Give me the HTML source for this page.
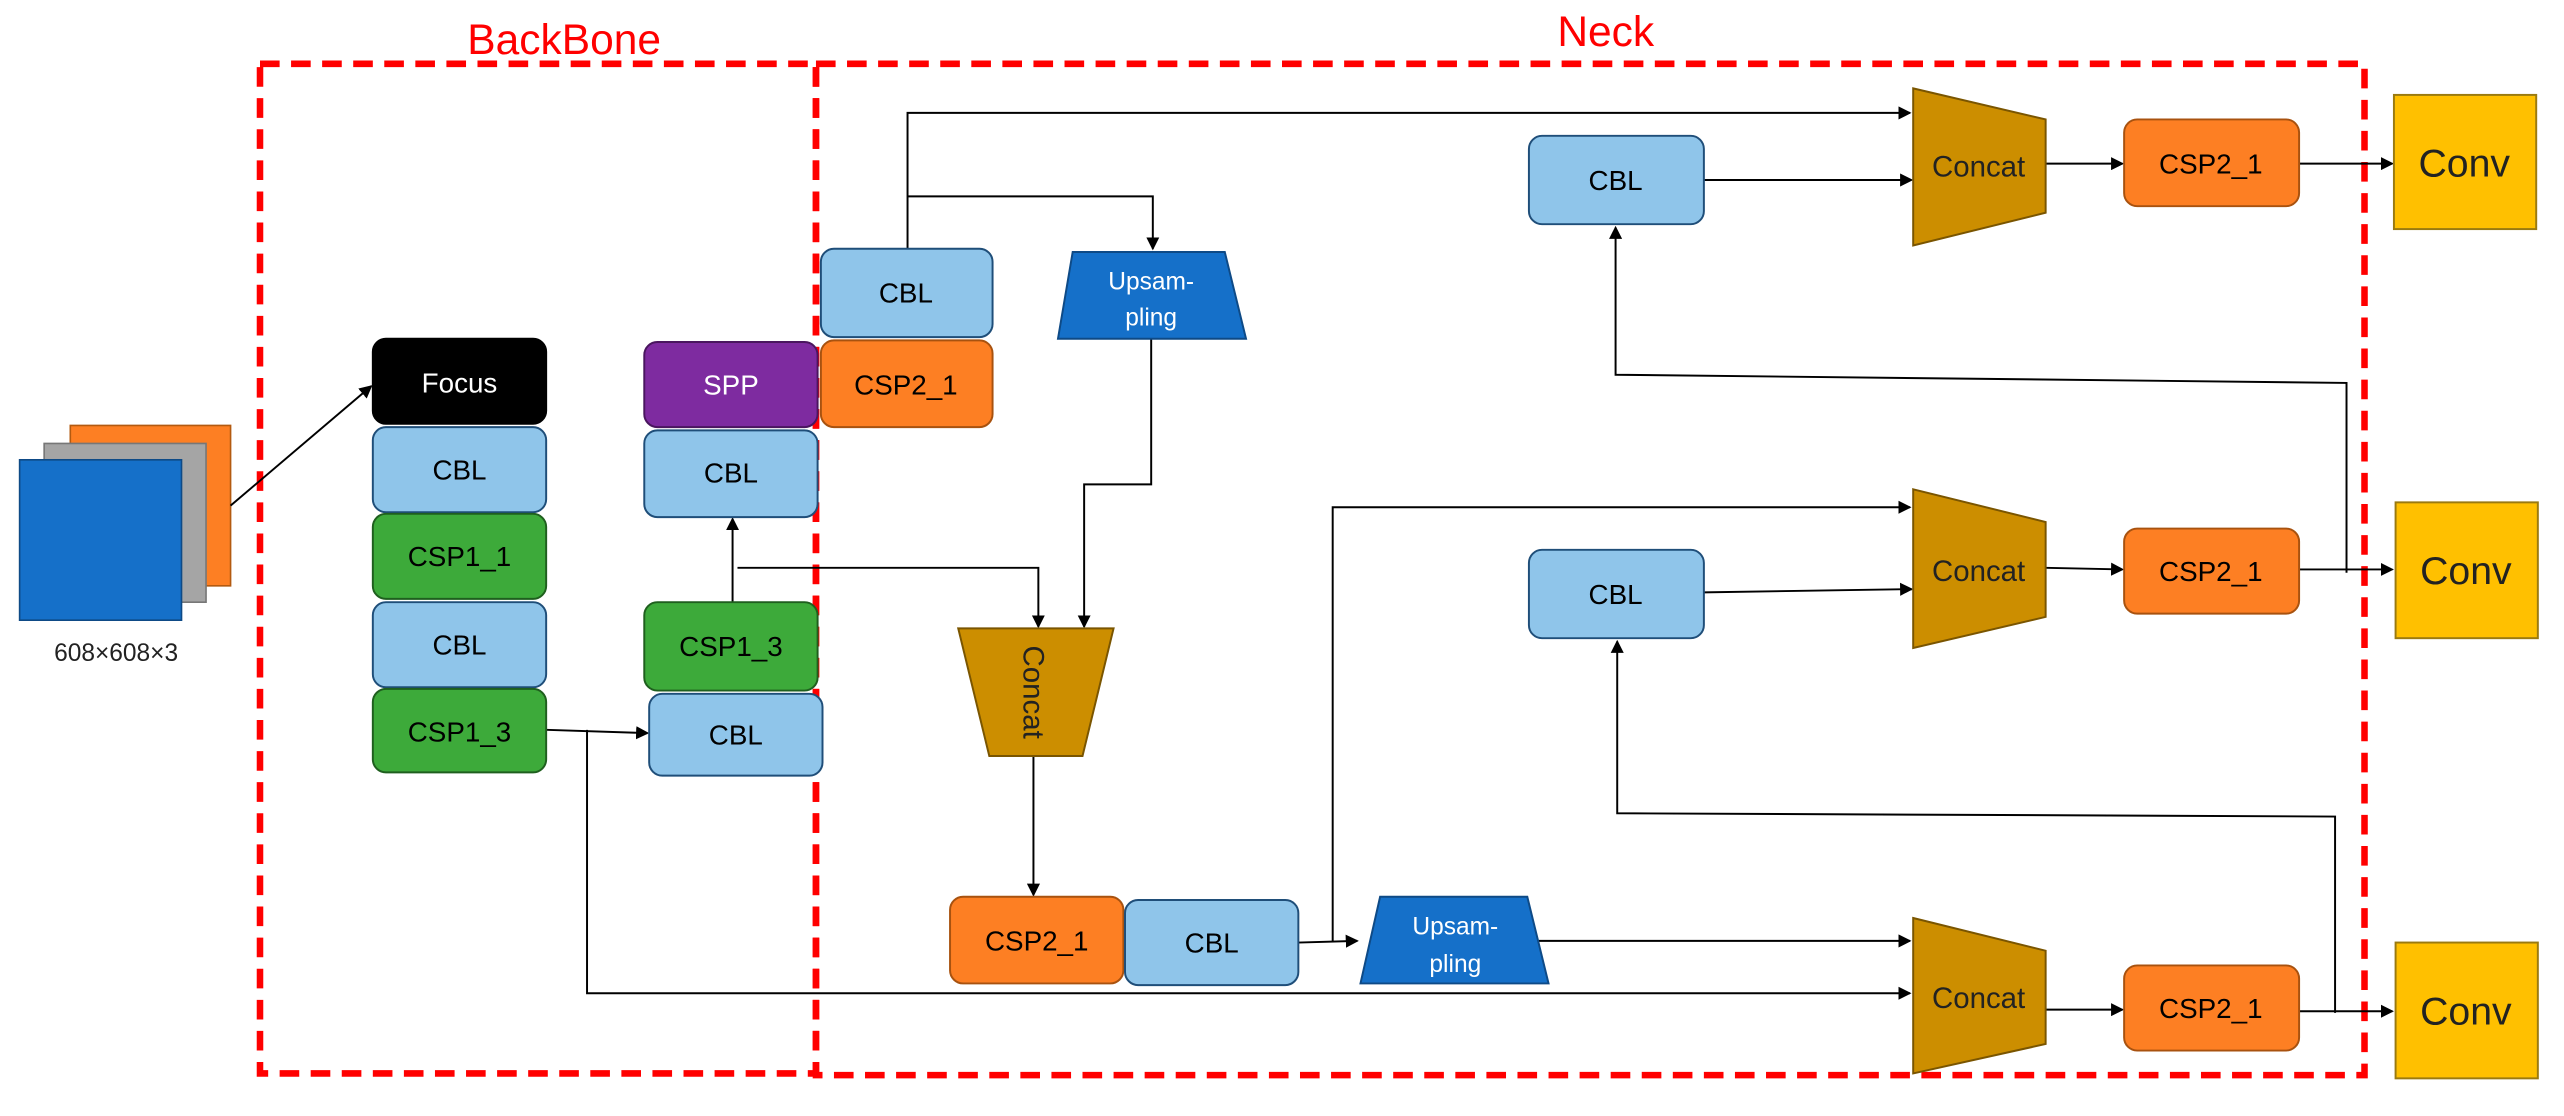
<!DOCTYPE html>
<html><head><meta charset="utf-8"><style>html,body{margin:0;padding:0;background:#fff}svg{display:block}</style></head>
<body>
<svg width="2564" height="1116" viewBox="0 0 1568 682" preserveAspectRatio="none" xmlns="http://www.w3.org/2000/svg" font-family="Liberation Sans, sans-serif">
<defs>
<marker id="a" markerWidth="8" markerHeight="8" refX="7" refY="4" orient="auto" markerUnits="userSpaceOnUse"><path d="M0,0 L8,4 L0,8 z" fill="#000"/></marker>
</defs>
<!-- dashed frames -->
<g fill="none" stroke="#f00" stroke-width="4" stroke-dasharray="12,7">
<rect x="159" y="39" width="340" height="617"/>
<rect x="499" y="39" width="947" height="618"/>
</g>
<text x="345" y="33" font-size="26" fill="#f00" text-anchor="middle">BackBone</text>
<text x="982" y="28" font-size="26" fill="#f00" text-anchor="middle">Neck</text>
<!-- input -->
<rect x="43" y="260" width="98" height="98" fill="#fd7f23" stroke="#b35a10"/>
<rect x="27" y="271" width="99" height="97" fill="#a5a5a5" stroke="#777"/>
<rect x="12" y="281" width="99" height="98" fill="#1570c9" stroke="#0e4a86"/>
<text x="71" y="404" font-size="15" text-anchor="middle" fill="#222">608×608×3</text>
<!-- connectors -->
<g stroke="#000" stroke-width="1.2" fill="none">
<line x1="141" y1="309" x2="227" y2="236" marker-end="url(#a)"/>
<line x1="334" y1="446" x2="396" y2="448" marker-end="url(#a)"/>
<polyline points="359,446 359,607 1168,607" marker-end="url(#a)"/>
<line x1="448" y1="368" x2="448" y2="317" marker-end="url(#a)"/>
<polyline points="451,347 635,347 635,383" marker-end="url(#a)"/>
<polyline points="555,152 555,69 1168,69" marker-end="url(#a)"/>
<polyline points="555,120 705,120 705,152" marker-end="url(#a)"/>
<polyline points="704,207 704,296 663,296 663,383" marker-end="url(#a)"/>
<line x1="632" y1="462" x2="632" y2="547" marker-end="url(#a)"/>
<line x1="794" y1="576" x2="830" y2="575" marker-end="url(#a)"/>
<polyline points="815,576 815,310 1168,310" marker-end="url(#a)"/>
<line x1="941" y1="575" x2="1168" y2="575" marker-end="url(#a)"/>
<line x1="1042" y1="110" x2="1169" y2="110" marker-end="url(#a)"/>
<line x1="1042" y1="362" x2="1169" y2="360" marker-end="url(#a)"/>
<line x1="1251" y1="100" x2="1298" y2="100" marker-end="url(#a)"/>
<line x1="1251" y1="347" x2="1298" y2="348" marker-end="url(#a)"/>
<line x1="1251" y1="617" x2="1298" y2="617" marker-end="url(#a)"/>
<line x1="1406" y1="100" x2="1463" y2="100" marker-end="url(#a)"/>
<line x1="1406" y1="348" x2="1463" y2="348" marker-end="url(#a)"/>
<line x1="1406" y1="618" x2="1463" y2="618" marker-end="url(#a)"/>
<polyline points="1435,350 1435,234 988,229 988,139" marker-end="url(#a)"/>
<polyline points="1428,619 1428,499 989,497 989,392" marker-end="url(#a)"/>
</g>
<!-- boxes -->
<g stroke-width="1.2" font-size="17" text-anchor="middle">
<rect x="228" y="207" width="106" height="52" rx="8" fill="#000" stroke="#000"/>
<text x="281" y="240" fill="#fff">Focus</text>
<rect x="228" y="261" width="106" height="52" rx="8" fill="#8fc5ea" stroke="#1f4e79"/>
<text x="281" y="293">CBL</text>
<rect x="228" y="314" width="106" height="52" rx="8" fill="#3daa3a" stroke="#1f5f1e"/>
<text x="281" y="346">CSP1_1</text>
<rect x="228" y="368" width="106" height="52" rx="8" fill="#8fc5ea" stroke="#1f4e79"/>
<text x="281" y="400">CBL</text>
<rect x="228" y="421" width="106" height="51" rx="8" fill="#3daa3a" stroke="#1f5f1e"/>
<text x="281" y="453">CSP1_3</text>
<rect x="394" y="209" width="106" height="52" rx="8" fill="#7e2ba0" stroke="#4a165f"/>
<text x="447" y="241" fill="#fff">SPP</text>
<rect x="394" y="263" width="106" height="53" rx="8" fill="#8fc5ea" stroke="#1f4e79"/>
<text x="447" y="295">CBL</text>
<rect x="394" y="368" width="106" height="54" rx="8" fill="#3daa3a" stroke="#1f5f1e"/>
<text x="447" y="401">CSP1_3</text>
<rect x="397" y="424" width="106" height="50" rx="8" fill="#8fc5ea" stroke="#1f4e79"/>
<text x="450" y="455">CBL</text>
<rect x="502" y="152" width="105" height="54" rx="8" fill="#8fc5ea" stroke="#1f4e79"/>
<text x="554" y="185">CBL</text>
<rect x="502" y="208" width="105" height="53" rx="8" fill="#fd7f23" stroke="#a8520f"/>
<text x="554" y="241">CSP2_1</text>
<rect x="581" y="548" width="106" height="53" rx="8" fill="#fd7f23" stroke="#a8520f"/>
<text x="634" y="581">CSP2_1</text>
<rect x="688" y="550" width="106" height="52" rx="8" fill="#8fc5ea" stroke="#1f4e79"/>
<text x="741" y="582">CBL</text>
<rect x="935" y="83" width="107" height="54" rx="8" fill="#8fc5ea" stroke="#1f4e79"/>
<text x="988" y="116">CBL</text>
<rect x="935" y="336" width="107" height="54" rx="8" fill="#8fc5ea" stroke="#1f4e79"/>
<text x="988" y="369">CBL</text>
<rect x="1299" y="73" width="107" height="53" rx="8" fill="#fd7f23" stroke="#a8520f"/>
<text x="1352" y="106">CSP2_1</text>
<rect x="1299" y="323" width="107" height="52" rx="8" fill="#fd7f23" stroke="#a8520f"/>
<text x="1352" y="355">CSP2_1</text>
<rect x="1299" y="590" width="107" height="52" rx="8" fill="#fd7f23" stroke="#a8520f"/>
<text x="1352" y="622">CSP2_1</text>
</g>
<!-- trapezoids -->
<g stroke-width="1.2">
<polygon points="656,154 749,154 762,207 647,207" fill="#1570c9" stroke="#0e4a86"/>
<polygon points="844,548 934,548 947,601 832,601" fill="#1570c9" stroke="#0e4a86"/>
<polygon points="586,384 681,384 662,462 605,462" fill="#cc8e00" stroke="#7a5500"/>
<polygon points="1170,54 1251,73 1251,130 1170,150" fill="#cc8e00" stroke="#7a5500"/>
<polygon points="1170,299 1251,319 1251,377 1170,396" fill="#cc8e00" stroke="#7a5500"/>
<polygon points="1170,561 1251,581 1251,638 1170,656" fill="#cc8e00" stroke="#7a5500"/>
</g>
<g font-size="15" fill="#fff" text-anchor="middle">
<text x="704" y="177">Upsam-</text><text x="704" y="199">pling</text>
<text x="890" y="571">Upsam-</text><text x="890" y="594">pling</text>
</g>
<g font-size="18" text-anchor="middle" fill="#222">
<text x="1210" y="108">Concat</text>
<text x="1210" y="355">Concat</text>
<text x="1210" y="616">Concat</text>
<text x="0" y="0" transform="translate(626,423) rotate(90)">Concat</text>
</g>
<!-- conv -->
<g fill="#ffc000" stroke="#9a7a10" stroke-width="1.2">
<rect x="1464" y="58" width="87" height="82"/>
<rect x="1465" y="307" width="87" height="83"/>
<rect x="1465" y="576" width="87" height="83"/>
</g>
<g font-size="24" text-anchor="middle" fill="#222">
<text x="1507" y="108">Conv</text>
<text x="1508" y="357">Conv</text>
<text x="1508" y="626">Conv</text>
</g>
</svg>
</body></html>
